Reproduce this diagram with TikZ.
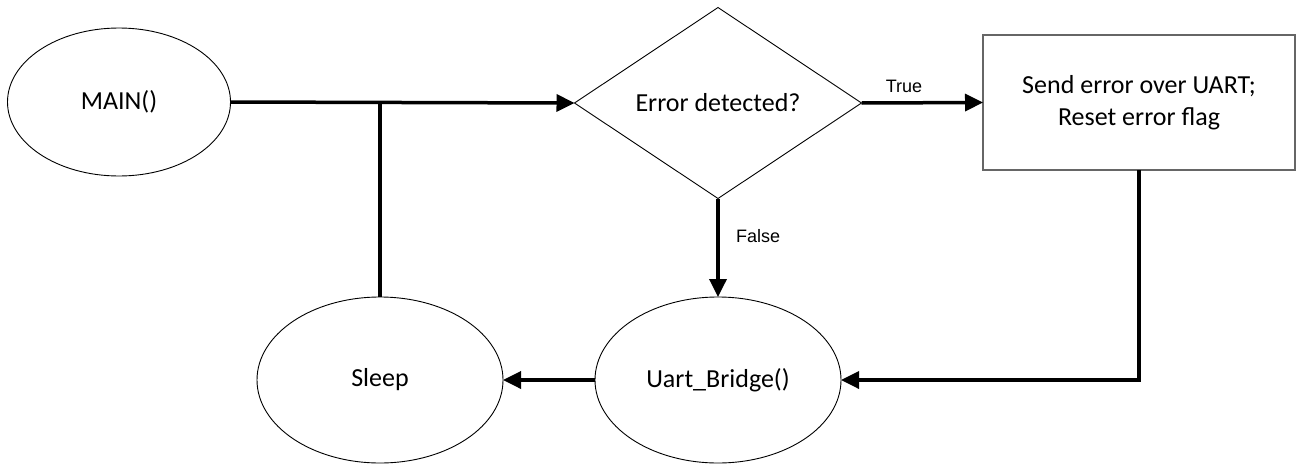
\documentclass[tikz,border=0pt]{standalone}
\usepackage{fontspec}
\setmainfont{Carlito}
\newfontfamily\arialfont{Liberation Sans}
\usetikzlibrary{shapes.geometric,arrows.meta}
\begin{document}
\begin{tikzpicture}[x=1pt,y=-1pt,
  every node/.style={inner sep=0pt, outer sep=0pt},
  big/.style={font=\fontsize{26}{32}\selectfont},
  small/.style={font=\arialfont\fontsize{18}{20}\selectfont},
  ell/.style={draw=black, line width=0.9pt, ellipse, big},
  decision/.style={draw=black, line width=0.9pt, diamond, aspect=1.5, minimum width=287pt, minimum height=191pt, big},
  actbox/.style={draw=black!60, line width=1.2pt, rectangle, minimum width=312pt, minimum height=135pt, align=center, big},
  conn/.style={line width=3.5pt, line cap=butt},
  arr/.style={-{Triangle[length=18pt,width=17pt]}}
]
\useasboundingbox (0,0) rectangle (1297,466);
\node[ell, minimum width=223pt, minimum height=148pt] (main) at (119,102) {MAIN()};
\node[decision] (dec) at (718,103) {Error detected?};
\node[actbox] (act) at (1139,102.5) {Send error over UART;\\Reset error flag};
\node[ell, minimum width=246pt, minimum height=166pt] (sleep) at (380,380) {Sleep};
\node[ell, minimum width=246pt, minimum height=166pt] (uart) at (718,380) {Uart\_Bridge()};

\draw[conn,arr] (main.east) -- (dec.west);
\draw[conn] (sleep.north) -- (sleep.north |- main.east);
\draw[conn,arr] (dec.east) -- node[small, pos=0.35, above=10pt] (truelbl) {True} (act.west);
\draw[conn,arr] (dec.south) -- node[small, pos=0.38, right=18pt] (falselbl) {False} (uart.north);
\draw[conn,arr] (act.south) |- (uart.east);
\draw[conn,arr] (uart.west) -- (sleep.east);
\end{tikzpicture}
\end{document}
